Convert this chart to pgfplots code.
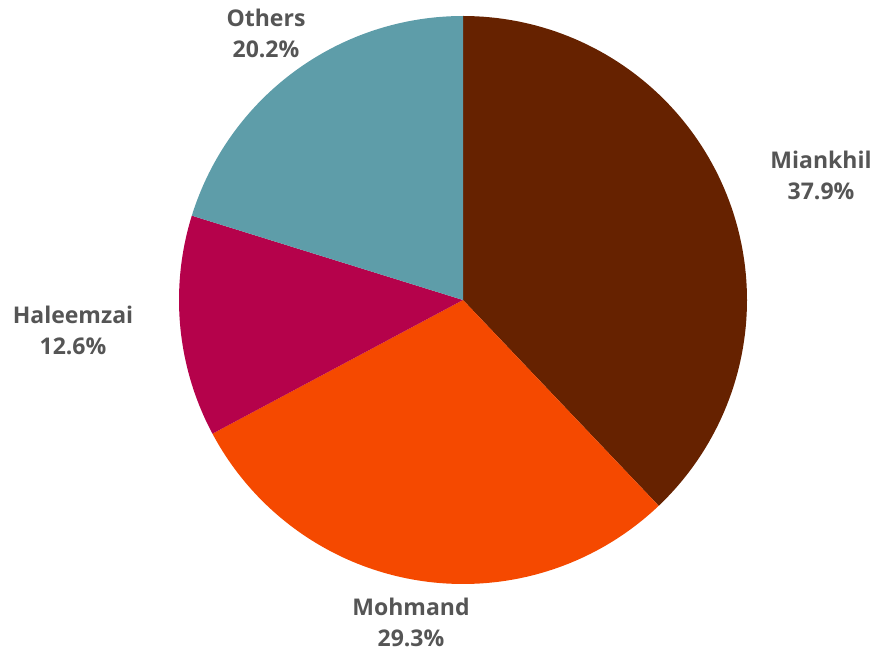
\documentclass[border=0pt]{standalone}
\usepackage{pgfplots}
\pgfplotsset{compat=1.18}
\usepackage{fontspec}
\setmainfont{Open Sans}
\definecolor{cMian}{HTML}{662200}
\definecolor{cMoh}{HTML}{F54900}
\definecolor{cHal}{HTML}{B5024B}
\definecolor{cOth}{HTML}{5E9DA9}
\definecolor{lbl}{HTML}{555555}
% slice: start percent, end percent (cumulative), colour
\newcommand{\slice}[3]{%
  \addplot[fill=#3, draw=none, variable=\t, samples at={-1,0,1,...,100}]
    ({\t<0 ? 463 : 463+284*sin(3.6*(#1+(#2-#1)*\t/100))},
     {\t<0 ? 300 : 300-284*cos(3.6*(#1+(#2-#1)*\t/100))});
}
\tikzset{lab/.style={align=center, text=lbl, font=\fontsize{11.5}{15.5}\selectfont\bfseries, inner sep=0pt}}
\begin{document}
\begin{tikzpicture}
\begin{axis}[name=ax,
  width=438pt, height=325.5pt, scale only axis,
  xmin=0, xmax=876, ymin=0, ymax=651, y dir=reverse,
  hide axis, clip=false
]
% shares: Miankhil 37.9, Mohmand 29.3, Haleemzai 12.6, Others 20.2
\slice{0}{37.9}{cMian}
\slice{37.9}{67.2}{cMoh}
\slice{67.2}{79.8}{cHal}
\slice{79.8}{100}{cOth}
\node[lab] at (axis cs:821,175) {Miankhil\\37.9\%};
\node[lab] at (axis cs:411,622) {Mohmand\\29.3\%};
\node[lab] at (axis cs:73,330) {Haleemzai\\12.6\%};
\node[lab] at (axis cs:266,33) {Others\\20.2\%};
\end{axis}
\pgfresetboundingbox
\path (ax.south west) rectangle (ax.north east);
\end{tikzpicture}
\end{document}
